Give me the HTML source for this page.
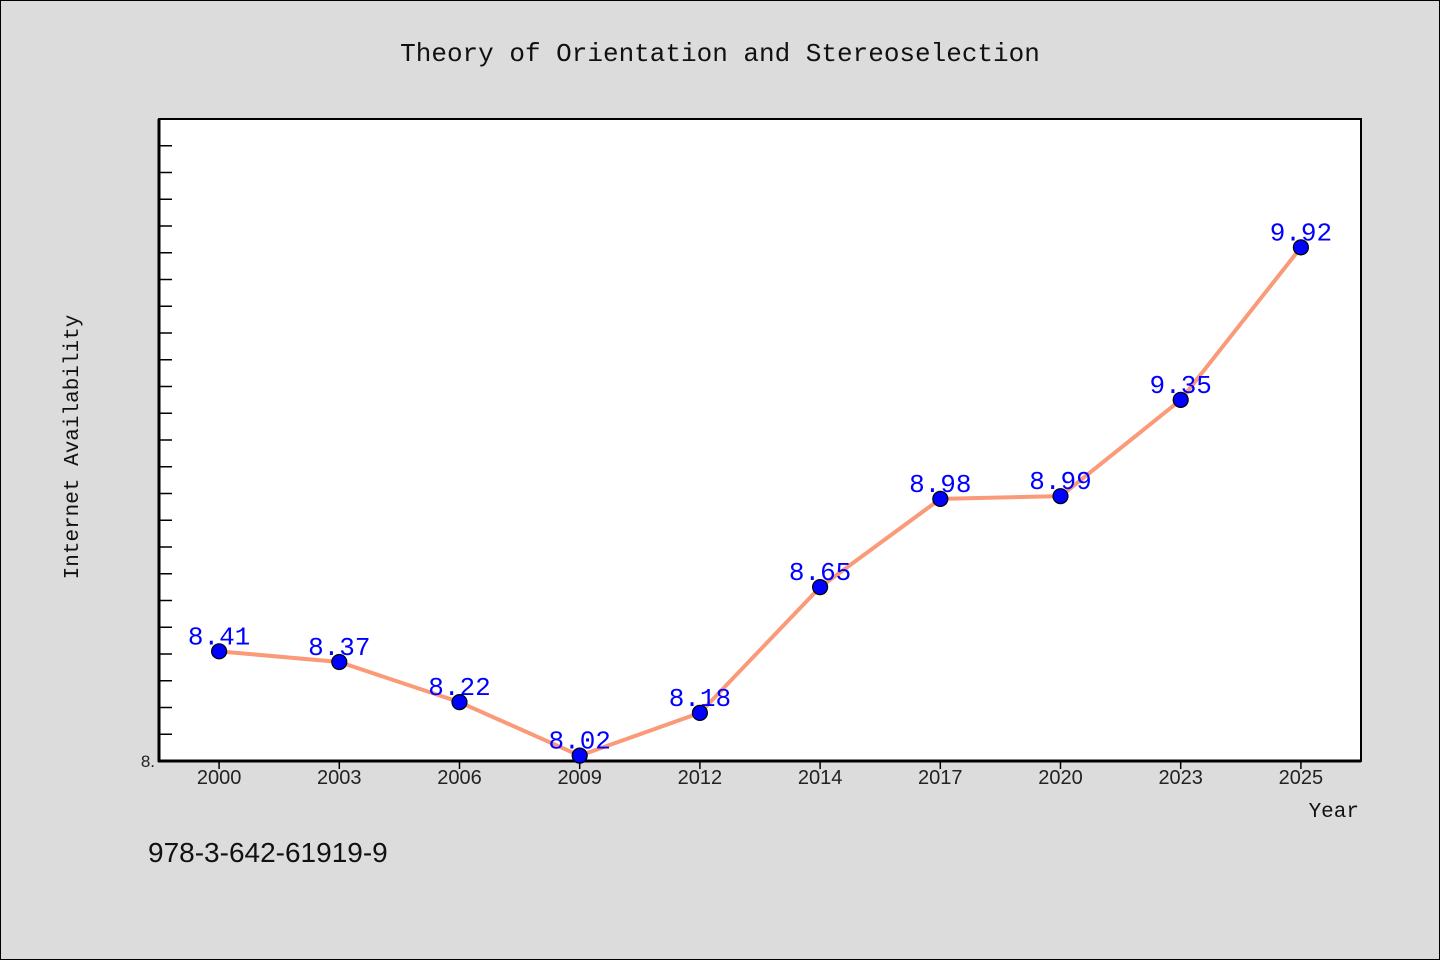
<!DOCTYPE html>
<html><head><meta charset="utf-8"><style>
html,body{margin:0;padding:0;background:#dcdcdc;}
svg{display:block;font-family:"WenQuanYi Zen Hei Mono","WenQuanYi Zen Hei","Liberation Mono",monospace;}
</style></head><body>
<svg id="chart" width="1440" height="960">
<rect x="0.5" y="0.5" width="1439" height="959" fill="#dcdcdc" stroke="#000"/>
<text x="720" y="61" text-anchor="middle" font-size="26" fill="#111">Theory of Orientation and Stereoselection</text>
<rect x="159" y="119" width="1202" height="642" fill="#fff" stroke="#000" stroke-width="2"/>
<g id="ticks"></g>
<line x1="159" y1="119" x2="159" y2="762" stroke="#000" stroke-width="3"/>
<line x1="158" y1="761" x2="1361" y2="761" stroke="#000" stroke-width="3"/>
<g id="series"></g>
<text x="78" y="447" text-anchor="middle" font-size="21" fill="#111" transform="rotate(-90 78 447)">Internet Availability</text>
<text x="1359" y="817" text-anchor="end" font-size="21" fill="#111">Year</text>
<text x="148" y="862" font-size="28" fill="#111" font-family="Liberation Sans, sans-serif">978-3-642-61919-9</text>
</svg>
<script>
const categories = ["2000","2003","2006","2009","2012","2014","2017","2020","2023","2025"];
const values = [8.41,8.37,8.22,8.02,8.18,8.65,8.98,8.99,9.35,9.92];
const labels = ["8.41","8.37","8.22","8.02","8.18","8.65","8.98","8.99","9.35","9.92"];
const yMin = 8, yMax = 10.4, yTickStep = 0.1;
const ns = "http://www.w3.org/2000/svg";
const L=159,R=1361,T=119,B=761;
const band=(R-L)/categories.length;
function xScale(i){return L+band*(i+0.5);}
function yScale(v){return B-(v-yMin)/(yMax-yMin)*(B-T);}
function mk(tag,attrs,parent){const e=document.createElementNS(ns,tag);for(const k in attrs)e.setAttribute(k,attrs[k]);parent.appendChild(e);return e;}
const tg=document.getElementById('ticks');
const nT=Math.round((yMax-yMin)/yTickStep);
for(let k=1;k<nT;k++){const y=yScale(yMin+k*yTickStep);
 const t=mk('line',{x1:L,x2:L+13,y1:y,y2:y,stroke:'#000','stroke-width':1.5},tg);
 
 }
const yl=mk('text',{x:155,y:B+6,'text-anchor':'end','font-size':17,fill:'#222','font-family':'Liberation Sans, sans-serif'},tg);
yl.textContent='8.';


categories.forEach((c,i)=>{const x=xScale(i);
 const t=mk('line',{x1:x,x2:x,y1:B,y2:B+8,stroke:'#000','stroke-width':1.5},tg);
 
 
 const tx=mk('text',{x:x,y:B+23,'text-anchor':'middle','font-size':20,fill:'#222','font-family':'Liberation Sans, sans-serif'},tg);
 tx.textContent=c;
 
 });
const sg=document.getElementById('series');
const pts=values.map((v,i)=>xScale(i)+','+yScale(v)).join(' ');
const pl=mk('polyline',{points:pts,fill:'none',stroke:'#fa9a78','stroke-width':4,'stroke-linejoin':'round'},sg);


values.forEach((v,i)=>{const x=xScale(i),y=yScale(v);
 const lb=mk('text',{x:x,y:y-7,'text-anchor':'middle','font-size':26,fill:'#0000ff'},sg);
 lb.textContent=labels[i];
 
 });
values.forEach((v,i)=>{
 const c=mk('circle',{cx:xScale(i),cy:yScale(v),r:7.5,fill:'#0000ff',stroke:'#000','stroke-width':1.2},sg);
 
 });
</script>
</body></html>
